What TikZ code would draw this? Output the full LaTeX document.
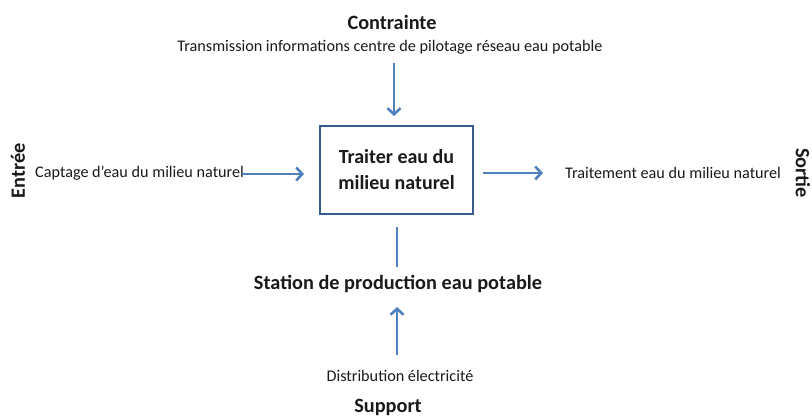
\documentclass[tikz,border=0pt]{standalone}
\usepackage{fontspec}
\setmainfont{Carlito}
\usetikzlibrary{arrows.meta}
\definecolor{arrowblue}{HTML}{4F81BD}
\definecolor{boxblue}{HTML}{385D8A}
\definecolor{txt}{HTML}{1A1A1A}
\tikzset{
  big/.style={font=\fontsize{20.3}{24}\selectfont\bfseries, text=txt, inner sep=0pt},
  small/.style={font=\fontsize{16.2}{19}\selectfont, text=txt, inner sep=0pt},
  flow/.style={draw=arrowblue, line width=2.6pt, -{Straight Barb[length=6pt,width=13pt,line width=2.6pt]}},
  plain/.style={draw=arrowblue, line width=2.6pt},
  mainbox/.style={draw=boxblue, line width=2.2pt, minimum width=153pt, minimum height=88pt, align=center,
    font=\fontsize{20}{26}\selectfont\bfseries, text=txt}
}
\begin{document}
\begin{tikzpicture}[x=1pt,y=-1pt]
\useasboundingbox (0,0) rectangle (812,417);
\node[mainbox] (box) at (396.5,170) {Traiter eau du\\milieu naturel};
\node[big] (contr) at (392,22) {Contrainte};
\node[small] (trans) at (390,47) {Transmission informations centre de pilotage réseau eau potable};
\node[big, rotate=90] (entree) at (18,171) {Entrée};
\node[small, anchor=west] (capt) at (35,173) {Captage d’eau du milieu naturel};
\node[small, anchor=west] (trait) at (565,173) {Traitement eau du milieu naturel};
\node[big, rotate=-90] (sortie) at (803,173) {Sortie};
\node[big] (station) at (398,284) {Station de production eau potable};
\node[small] (distr) at (400,376) {Distribution électricité};
\node[big] (supp) at (388,407) {Support};
\coordinate (t1) at (394,63);
\coordinate (t2) at (394,116);
\coordinate (l1) at (242,174);
\coordinate (l2) at (304,174);
\coordinate (r1) at (483,173);
\coordinate (r2) at (543,173);
\coordinate (m1) at (397,227);
\coordinate (m2) at (397,267);
\coordinate (s1) at (397,355);
\coordinate (s2) at (397,307);
\draw[flow] (t1) -- (t2);
\draw[flow] (l1) -- (l2);
\draw[flow] (r1) -- (r2);
\draw[plain] (m1) -- (m2);
\draw[flow] (s1) -- (s2);
\end{tikzpicture}
\end{document}
